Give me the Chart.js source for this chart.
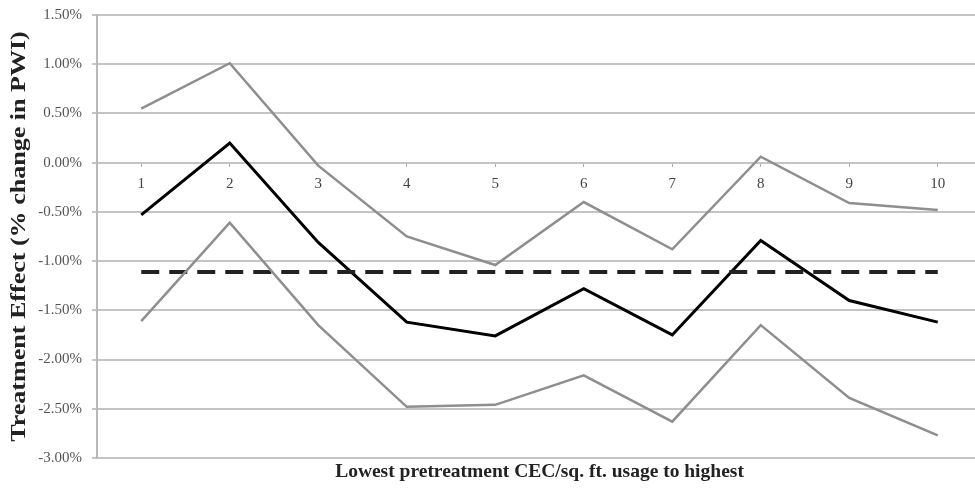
<!DOCTYPE html>
<html>
<head>
<meta charset="utf-8">
<script src="https://cdn.jsdelivr.net/npm/chart.js@4.4.1/dist/chart.umd.min.js"></script>
<style>
  html, body { margin: 0; padding: 0; background: #fff; overflow: hidden; }
  #wrap { width: 985px; height: 489px; position: relative; }
</style>
</head>
<body>
<div id="wrap"><canvas id="chart"></canvas></div>
<script>
// data (percent change in PWI)
const deciles = ['1', '2', '3', '4', '5', '6', '7', '8', '9', '10'];
const upperBound = [0.55, 1.01, -0.03, -0.75, -1.04, -0.40, -0.88, 0.06, -0.41, -0.48];
const effect = [-0.53, 0.20, -0.81, -1.62, -1.76, -1.28, -1.75, -0.79, -1.40, -1.62];
const lowerBound = [-1.61, -0.61, -1.65, -2.48, -2.46, -2.16, -2.63, -1.65, -2.39, -2.77];
const averageEffect = [-1.11, -1.11, -1.11, -1.11, -1.11, -1.11, -1.11, -1.11, -1.11, -1.11];

const yTicks = [-3, -2.5, -2, -1.5, -1, -0.5, 0, 0.5, 1, 1.5];

const serif = '"Liberation Serif", "DejaVu Serif", serif';

// the y title in the picture is stretched along its length, so stretch it the same way
const stretchYTitle = {
  id: 'stretchYTitle',
  afterLayout(chart) {
    const s = chart.scales.y;
    if (s._stretched) return;
    const orig = s.drawTitle.bind(s);
    s.drawTitle = function (area) {
      const c = this.ctx;
      const cy = (this.top + this.bottom) / 2;
      c.save();
      c.translate(0, cy);
      c.scale(1, 1.24);
      c.translate(0, -cy);
      orig(area);
      c.restore();
    };
    s._stretched = true;
  }
};

const ctx = document.getElementById('chart').getContext('2d');
new Chart(ctx, {
  type: 'line',
  data: {
    labels: deciles,
    datasets: [
      {
        label: 'Upper bound',
        data: upperBound,
        borderColor: '#8e8e8e',
        borderWidth: 2.5,
        pointRadius: 0,
        tension: 0
      },
      {
        label: 'Lower bound',
        data: lowerBound,
        borderColor: '#8e8e8e',
        borderWidth: 2.5,
        pointRadius: 0,
        tension: 0
      },
      {
        label: 'Average effect',
        data: averageEffect,
        borderColor: '#222',
        borderWidth: 4,
        borderDash: [18, 10],
        pointRadius: 0,
        tension: 0
      },
      {
        label: 'Treatment effect',
        data: effect,
        borderColor: '#000',
        borderWidth: 3,
        pointRadius: 0,
        tension: 0
      }
    ]
  },
  plugins: [stretchYTitle],
  options: {
    responsive: true,
    maintainAspectRatio: false,
    animation: false,
    layout: { padding: { top: 15, right: 3, left: 0, bottom: 0 } },
    plugins: {
      legend: { display: false },
      tooltip: { enabled: false },
      title: {
        display: true,
        position: 'bottom',
        fullSize: false,
        text: 'Lowest pretreatment CEC/sq. ft. usage to highest',
        color: '#222',
        font: { family: serif, size: 19.5, weight: 'bold' },
        padding: { top: 2, bottom: 5.6 }
      }
    },
    scales: {
      x: {
        position: { y: 0 },
        offset: true,
        grid: {
          drawOnChartArea: false,
          drawTicks: true,
          tickLength: 4,
          color: '#aaa',
          lineWidth: 1
        },
        border: { display: false },
        ticks: {
          color: '#444',
          padding: 8,
          maxRotation: 0,
          font: { family: serif, size: 15 }
        }
      },
      y: {
        min: -3,
        max: 1.5,
        afterFit: (scale) => {
          scale.width = 97;
          scale.paddingTop = 0;
          scale.paddingBottom = 0;
        },
        afterBuildTicks: (scale) => { scale.ticks = yTicks.map(v => ({ value: v })); },
        grid: {
          color: '#c4c4c4',
          lineWidth: 2,
          tickLength: 5
        },
        border: { display: true, color: '#b8b8b8', width: 2 },
        ticks: {
          color: '#555',
          padding: 10,
          font: { family: serif, size: 15 },
          callback: (v) => v.toFixed(2) + '%'
        },
        title: {
          display: true,
          text: 'Treatment Effect (% change in PWI)',
          color: '#222',
          font: { family: serif, size: 21, weight: 'bold' },
          padding: { top: 6.5, bottom: 0 }
        }
      }
    }
  }
});
</script>
</body>
</html>
